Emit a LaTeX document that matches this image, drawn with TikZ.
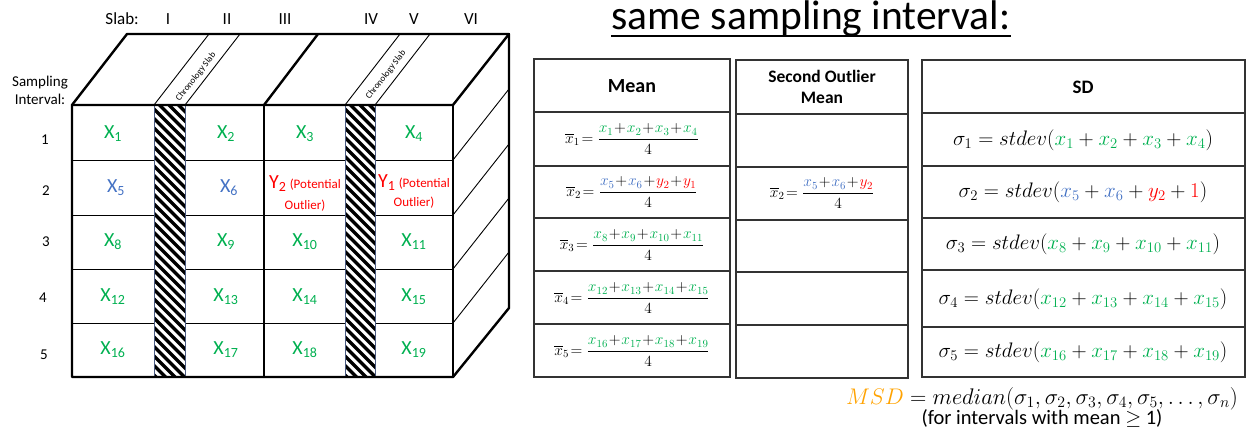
\RequirePackage{fix-cm}
\documentclass[tikz,border=0pt]{standalone}
\usepackage{amsmath}
\usepackage{fontspec}
\setmainfont{Carlito}
\definecolor{xg}{HTML}{00B050}
\definecolor{xb}{HTML}{4472C4}
\definecolor{xr}{HTML}{FF0000}
\definecolor{xo}{HTML}{FFA200}
\definecolor{stripedge}{HTML}{4A5A80}
\newcommand\cg[1]{{\color{xg}#1}}
\newcommand\cb[1]{{\color{xb}#1}}
\newcommand\cre[1]{{\color{xr}#1}}
\newcommand\fs[2]{\fontsize{#1}{#2}\selectfont}
\begin{document}
\begin{tikzpicture}[x=1pt,y=-1pt,
  thickline/.style={line width=2.4pt,line join=round,line cap=round},
  thinline/.style={line width=0.9pt},
  cell/.style={font=\fs{20}{24}, text=xg, inner sep=0pt},
  redcell/.style={font=\fs{20}{24}, text=xr, inner sep=0pt, align=center},
  lab/.style={font=\fs{15}{17}, inner sep=0pt},
  slablab/.style={font=\fs{17}{19}, inner sep=0pt},
  chron/.style={font=\fs{9}{10}, rotate=52, inner sep=0pt},
  tbl/.style={draw=black!80, line width=1.3pt},
  hdr/.style={font=\bfseries\fs{20}{23}, align=center},
  meanf/.style={font=\fs{15.5}{18}, inner sep=0pt},
  sdf/.style={font=\fs{21}{24}, inner sep=0pt}]
\useasboundingbox (0,0) rectangle (1247,435);

% ---------- labels above/left of block
\node[slablab, anchor=east] (slab) at (139,19) {Slab:};
\node[slablab] (s1) at (168,19) {I};
\node[slablab] (s2) at (227,19) {II};
\node[slablab] (s3) at (285,19) {III};
\node[slablab] (s4) at (371,19) {IV};
\node[slablab] (s5) at (414,19) {V};
\node[slablab] (s6) at (471,19) {VI};
\node[lab, align=center] (si) at (40,90) {Sampling\\[1pt]Interval:};
\node[lab] (r1) at (45,140) {1};
\node[lab] (r2) at (46,191) {2};
\node[lab] (r3) at (46,242) {3};
\node[lab] (r4) at (43,298) {4};
\node[lab] (r5) at (44,355) {5};

% ---------- hatch strips
\foreach \xa/\xb in {154/185,345/375}{
  \begin{scope}
    \clip (\xa,105) rectangle (\xb,377);
    \fill[white] (\xa,105) rectangle (\xb,377);
    \foreach \k in {-5,...,32} \draw[line width=3.2pt] (\xa-4,105+9.5*\k) -- ++(40,40);
  \end{scope}
}

% ---------- thin grid on front face and right face
\foreach \y in {160,215,269,323}{
  \draw[thinline] (72,\y) -- (154,\y);
  \draw[thinline] (185,\y) -- (345,\y);
  \draw[thinline] (375,\y) -- (453,\y);
  \draw[thinline] (453,\y) -- (509,\y-71);
}
\draw[stripedge, line width=1pt] (154,105) -- (154,377) (185,105) -- (185,377)
  (345,105) -- (345,377) (375,105) -- (375,377);

% top face thin lines
\draw[thinline] (154,105) -- (209,34) (185,105) -- (240,34)
  (345,105) -- (400,34) (375,105) -- (430,34);

% ---------- thick outline
\draw[thickline] (72,105) -- (127,34) -- (509,34) -- (509,308) -- (453,377) -- (72,377) -- cycle;
\draw[thickline] (72,105) -- (453,105) -- (509,34);
\draw[thickline] (453,105) -- (453,377);
\draw[thickline] (264,105) -- (264,377);
\draw[thickline] (264,105) -- (318,34);

\node[chron] (ch1) at (196,77) {Chronology Slab};
\node[chron] (ch2) at (386,75) {Chronology Slab};

% ---------- cell labels
\node[cell] (x1) at (113,134) {X\textsubscript{1}};
\node[cell] (x2) at (226,134) {X\textsubscript{2}};
\node[cell] (x3) at (305,134) {X\textsubscript{3}};
\node[cell] (x4) at (414,134) {X\textsubscript{4}};
\node[cell, text=xb] (x5) at (116,188) {X\textsubscript{5}};
\node[cell, text=xb] (x6) at (229,188) {X\textsubscript{6}};
\node[redcell] (y2) at (305,193) {Y\textsubscript{2}\,{\fs{13}{15}(Potential}\\[-3pt]{\fs{13}{15}Outlier)}};
\node[redcell] (y1) at (414,191) {Y\textsubscript{1}\,{\fs{13}{15}(Potential}\\[-5pt]{\fs{13}{15}Outlier)}};
\node[cell] (x8) at (113,242) {X\textsubscript{8}};
\node[cell] (x9) at (226,242) {X\textsubscript{9}};
\node[cell] (x10) at (305,242) {X\textsubscript{10}};
\node[cell] (x11) at (414,242) {X\textsubscript{11}};
\node[cell] (x12) at (113,297) {X\textsubscript{12}};
\node[cell] (x13) at (226,297) {X\textsubscript{13}};
\node[cell] (x14) at (305,297) {X\textsubscript{14}};
\node[cell] (x15) at (414,297) {X\textsubscript{15}};
\node[cell] (x16) at (113,350) {X\textsubscript{16}};
\node[cell] (x17) at (226,350) {X\textsubscript{17}};
\node[cell] (x18) at (305,350) {X\textsubscript{18}};
\node[cell] (x19) at (414,350) {X\textsubscript{19}};

% ---------- title
\node[font=\fs{41.5}{48}, inner sep=0pt, anchor=base] (title) at (811,29.5) {same sampling interval:};
\draw[line width=2pt] ([yshift=-6.5pt]title.base west) -- ([yshift=-6.5pt]title.base east);

% ---------- Mean table
\draw[tbl] (534,59) rectangle (730,377);
\foreach \y in {112,166,218,271,324} \draw[tbl] (534,\y) -- (730,\y);
\node[hdr] (mh) at (632,86) {Mean};
\node[meanf] (m1) at (632,139) {$\overline{x}_1\!= \dfrac{\cg{x_1}\!+\!\cg{x_2}\!+\!\cg{x_3}\!+\!\cg{x_4}}{4}$};
\node[meanf] (m2) at (632,192) {$\overline{x}_2\!= \dfrac{\cb{x_5}\!+\!\cb{x_6}\!+\!\cre{y_2}\!+\!\cre{y_1}}{4}$};
\node[meanf] (m3) at (632,245) {$\overline{x}_3\!= \dfrac{\cg{x_8}\!+\!\cg{x_9}\!+\!\cg{x_{10}}\!+\!\cg{x_{11}}}{4}$};
\node[meanf] (m4) at (632,298) {$\overline{x}_4\!= \dfrac{\cg{x_{12}}\!+\!\cg{x_{13}}\!+\!\cg{x_{14}}\!+\!\cg{x_{15}}}{4}$};
\node[meanf] (m5) at (632,351) {$\overline{x}_5\!= \dfrac{\cg{x_{16}}\!+\!\cg{x_{17}}\!+\!\cg{x_{18}}\!+\!\cg{x_{19}}}{4}$};

% ---------- Second outlier mean table
\draw[tbl] (736,60) rectangle (908,378);
\foreach \y in {114,167,220,272,325} \draw[tbl] (736,\y) -- (908,\y);
\node[hdr, font=\bfseries\fs{17.5}{21}] (oh) at (822,87) {Second Outlier\\Mean};
\node[meanf] (o2) at (822,193) {$\overline{x}_2\!= \dfrac{\cb{x_5}\!+\!\cb{x_6}\!+\!\cre{y_2}}{4}$};

% ---------- SD table
\draw[tbl] (922,60) rectangle (1245,377);
\foreach \y in {113,166,218,270,327} \draw[tbl] (922,\y) -- (1245,\y);
\node[hdr, font=\bfseries\fs{19}{22}] (sh) at (1083,87) {SD};
\node[sdf] (d1) at (1083,140) {$\sigma_1 = stdev(\cg{x_1} + \cg{x_2} + \cg{x_3} + \cg{x_4})$};
\node[sdf] (d2) at (1083,192) {$\sigma_2 = stdev(\cb{x_5} + \cb{x_6} + \cre{y_2} + \cre{1})$};
\node[sdf] (d3) at (1083,244) {$\sigma_3 = stdev(\cg{x_8} + \cg{x_9} + \cg{x_{10}} + \cg{x_{11}})$};
\node[sdf] (d4) at (1083,299) {$\sigma_4 = stdev(\cg{x_{12}} + \cg{x_{13}} + \cg{x_{14}} + \cg{x_{15}})$};
\node[sdf] (d5) at (1083,352) {$\sigma_5 = stdev(\cg{x_{16}} + \cg{x_{17}} + \cg{x_{18}} + \cg{x_{19}})$};

% ---------- MSD
\node[font=\fs{22.6}{26}, inner sep=0pt, anchor=base east] (msd) at (1238,404)
  {${\color{xo}MSD} = median(\sigma_1, \sigma_2, \sigma_3, \sigma_4, \sigma_5, \dots, \sigma_n)$};
\node[font=\fs{20.5}{23}, inner sep=0pt, anchor=base] (note) at (1042,424) {(for intervals with mean $\geq$ 1)};
\end{tikzpicture}
\end{document}
